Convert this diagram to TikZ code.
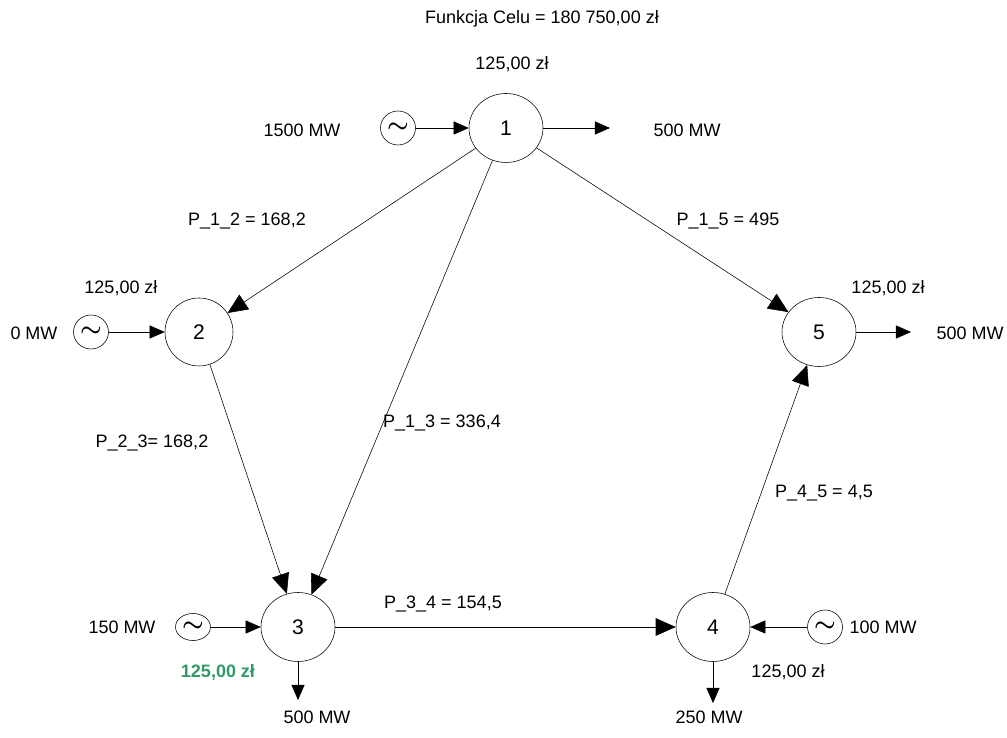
\documentclass[tikz,border=0pt]{standalone}
\usepackage{fontspec}
\setmainfont{Liberation Sans}
\usepackage{amsmath}
\usepackage{amssymb}
\usetikzlibrary{arrows.meta, shapes.geometric}

\definecolor{pricegreen}{RGB}{51,153,102}

\begin{document}
\begin{tikzpicture}[every node/.style={font=\fontsize{12.8}{15}\selectfont},
    bus/.style={ellipse, draw, minimum width=1.85cm, minimum height=1.725cm, inner sep=0pt, font=\fontsize{15}{18}\selectfont},
    gen/.style={ellipse, draw, minimum width=0.875cm, minimum height=0.85cm, inner sep=0pt, font=\fontsize{17}{17}\selectfont},
    lbl/.style={draw=none, inner sep=1pt},
    line/.style={-{Triangle[length=0.5cm,width=0.44cm]}},
    feed/.style={-{Triangle[length=0.38cm,width=0.33cm]}}]
  \useasboundingbox (0cm, 0cm) rectangle (25.175cm, 18.45cm);
  \node (1) [bus] at (12.65cm, 15.25cm) {1};
  \node (2) [bus, minimum width=1.7cm, minimum height=1.7cm] at (4.975cm, 10.15cm) {2};
  \node (3) [bus] at (7.45cm, 2.775cm) {3};
  \node (4) [bus] at (17.825cm, 2.775cm) {4};
  \node (5) [bus] at (20.475cm, 10.15cm) {5};
  \node (g1) [gen] at (9.95cm, 15.25cm) {$\boldsymbol{\sim}$};
  \node (g2) [gen] at (2.275cm, 10.15cm) {$\boldsymbol{\sim}$};
  \node (g3) [gen, minimum height=0.675cm] at (4.825cm, 2.775cm) {$\boldsymbol{\sim}$};
  \node (g4) [gen] at (20.625cm, 2.775cm) {$\boldsymbol{\sim}$};
  \coordinate (o1) at (15.25cm, 15.25cm);
  \coordinate (o5) at (22.775cm, 10.15cm);
  \coordinate (o3) at (7.45cm, 0.95cm);
  \coordinate (o4) at (17.825cm, 0.875cm);

  \node [lbl] (fc) at (13.55cm, 17.975cm) {Funkcja Celu = 180 750,00 zł};
  \node [lbl] (c1) at (12.8cm, 16.85cm) {125,00 zł};
  \node [lbl] (m1) at (7.55cm, 15.2cm) {1500 MW};
  \node [lbl] (d1) at (17.175cm, 15.2cm) {500 MW};
  \node [lbl] (c2) at (3.025cm, 11.25cm) {125,00 zł};
  \node [lbl] (m2) at (0.85cm, 10.125cm) {0 MW};
  \node [lbl] (c5) at (22.2cm, 11.25cm) {125,00 zł};
  \node [lbl] (d5) at (24.25cm, 10.125cm) {500 MW};
  \node [lbl] (m3) at (3.05cm, 2.775cm) {150 MW};
  \node [lbl, text=pricegreen, font=\fontsize{12.8}{15}\selectfont\bfseries] (c3) at (5.45cm, 1.65cm) {125,00 zł};
  \node [lbl] (d3) at (7.925cm, 0.525cm) {500 MW};
  \node [lbl] (m4) at (22.075cm, 2.775cm) {100 MW};
  \node [lbl] (c4) at (19.7cm, 1.65cm) {125,00 zł};
  \node [lbl] (d4) at (17.725cm, 0.525cm) {250 MW};
  \node [lbl] (p12) at (6.175cm, 12.925cm) {P\_1\_2 = 168,2};
  \node [lbl] (p15) at (18.2cm, 12.925cm) {P\_1\_5 = 495};
  \node [lbl] (p23) at (3.8cm, 7.375cm) {P\_2\_3= 168,2};
  \node [lbl] (p13) at (11.05cm, 7.875cm) {P\_1\_3 = 336,4};
  \node [lbl] (p45) at (20.6cm, 6.125cm) {P\_4\_5 = 4,5};
  \node [lbl] (p34) at (11.075cm, 3.35cm) {P\_3\_4 = 154,5};

  \draw [line] (1) -- (2);
  \draw [line] (1) -- (3);
  \draw [line] (1) -- (5);
  \draw [line] (2) -- (3);
  \draw [line] (3) -- (4);
  \draw [line] (4) -- (5);
  \draw [feed] (g1) -- (1);
  \draw [feed] (g2) -- (2);
  \draw [feed] (g3) -- (3);
  \draw [feed] (g4) -- (4);
  \draw [feed] (1) -- (o1);
  \draw [feed] (5) -- (o5);
  \draw [feed] (3) -- (o3);
  \draw [feed] (4) -- (o4);
\end{tikzpicture}
\end{document}
